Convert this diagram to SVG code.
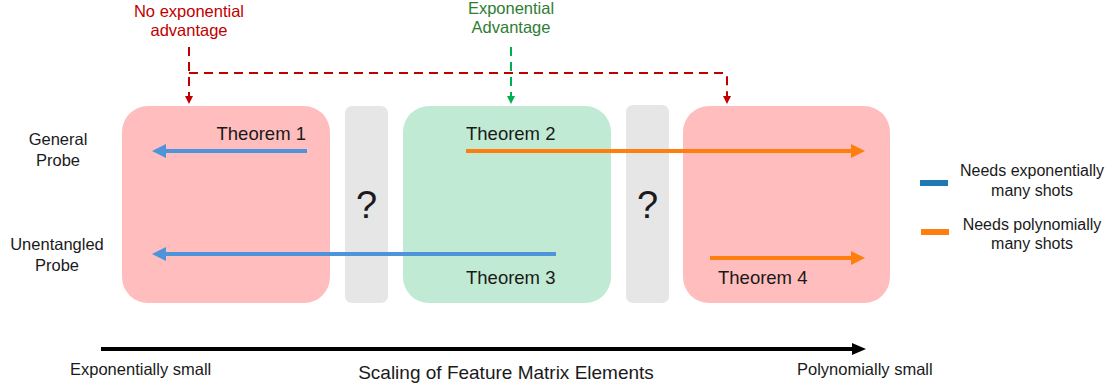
<svg xmlns="http://www.w3.org/2000/svg" width="1119" height="387" viewBox="0 0 1119 387">
  <style>
    text { font-family: "Liberation Sans", Arial, sans-serif; fill: #1a1a1a; }
    .thm { font-size: 18.5px; }
    .side { font-size: 16.5px; text-anchor: middle; }
    .legend { font-size: 16px; text-anchor: middle; }
    .axis { font-size: 16.5px; }
    .q { font-size: 38px; text-anchor: middle; }
    .red-box { fill: #ffbdbd; }
    .green-box { fill: #c0ead3; }
    .gray-box { fill: #e6e6e6; }
    .blue { stroke: #4d94db; stroke-width: 4; fill: none; }
    .orange { stroke: #ff7f0e; stroke-width: 4; fill: none; }
    .dash-red { stroke: #c00000; stroke-width: 2; fill: none; stroke-dasharray: 9 6; }
    .dash-green { stroke: #00b050; stroke-width: 2; fill: none; stroke-dasharray: 9 6; }
  </style>
  <defs>
    <marker id="head-blue" markerUnits="userSpaceOnUse" markerWidth="14" markerHeight="14" refX="0" refY="7" orient="auto">
      <path d="M0,0 L14,7 L0,14 Z" fill="#4d94db"/>
    </marker>
    <marker id="head-orange" markerUnits="userSpaceOnUse" markerWidth="14" markerHeight="14" refX="0" refY="7" orient="auto">
      <path d="M0,0 L14,7 L0,14 Z" fill="#ff7f0e"/>
    </marker>
    <marker id="head-black" markerUnits="userSpaceOnUse" markerWidth="14" markerHeight="14" refX="0" refY="7" orient="auto">
      <path d="M0,1 L14,7 L0,13 Z" fill="#000"/>
    </marker>
    <marker id="head-red" markerUnits="userSpaceOnUse" markerWidth="8" markerHeight="8" refX="0" refY="4" orient="auto">
      <path d="M0,0 L8,4 L0,8 Z" fill="#c00000"/>
    </marker>
    <marker id="head-green" markerUnits="userSpaceOnUse" markerWidth="8" markerHeight="8" refX="0" refY="4" orient="auto">
      <path d="M0,0 L8,4 L0,8 Z" fill="#00b050"/>
    </marker>
  </defs>

  <!-- regions -->
  <g id="region-exp-small">
    <rect class="red-box" x="122" y="106" width="208" height="197" rx="26"/>
  </g>
  <g id="gap-left">
    <rect class="gray-box" x="345" y="106" width="43" height="197" rx="7"/>
    <text class="q" x="366.5" y="218">?</text>
  </g>
  <g id="region-mid">
    <rect class="green-box" x="403" y="106" width="208" height="197" rx="26"/>
  </g>
  <g id="gap-right">
    <rect class="gray-box" x="626" y="105" width="43" height="198" rx="7"/>
    <text class="q" x="647.5" y="218">?</text>
  </g>
  <g id="region-poly-small">
    <rect class="red-box" x="683" y="106" width="207" height="197" rx="26"/>
  </g>

  <!-- row labels -->
  <g id="label-general">
    <text class="side" x="58" y="145">General</text>
    <text class="side" x="58" y="166">Probe</text>
  </g>
  <g id="label-unentangled">
    <text class="side" x="57" y="250">Unentangled</text>
    <text class="side" x="57" y="271">Probe</text>
  </g>

  <!-- top annotations -->
  <g id="note-no-advantage">
    <text class="legend" x="189" y="17" style="fill:#c00000;font-size:16.5px">No exponential</text>
    <text class="legend" x="189" y="36" style="fill:#c00000;font-size:16.5px">advantage</text>
  </g>
  <g id="note-advantage">
    <text class="legend" x="511" y="14" style="fill:#2e7d32;font-size:16.5px">Exponential</text>
    <text class="legend" x="511" y="33" style="fill:#2e7d32;font-size:16.5px">Advantage</text>
  </g>

  <!-- theorem labels -->
  <g id="theorem-1"><text class="thm" x="306" y="140" text-anchor="end">Theorem 1</text></g>
  <g id="theorem-2"><text class="thm" x="466" y="140">Theorem 2</text></g>
  <g id="theorem-3"><text class="thm" x="466" y="284">Theorem 3</text></g>
  <g id="theorem-4"><text class="thm" x="718" y="284">Theorem 4</text></g>

  <!-- legend -->
  <g id="legend-exp">
    <line x1="920" y1="183" x2="948" y2="183" stroke="#1f77b4" stroke-width="6"/>
    <text class="legend" x="1032" y="176">Needs exponentially</text>
    <text class="legend" x="1032" y="196">many shots</text>
  </g>
  <g id="legend-poly">
    <line x1="921" y1="232" x2="949" y2="232" stroke="#ff7f0e" stroke-width="6"/>
    <text class="legend" x="1032" y="230">Needs polynomially</text>
    <text class="legend" x="1032" y="249">many shots</text>
  </g>

  <!-- axis -->
  <g id="axis">
    <text class="axis" x="70" y="375">Exponentially small</text>
    <text class="axis" x="506" y="379" text-anchor="middle" style="font-size:19px">Scaling of Feature Matrix Elements</text>
    <text class="axis" x="797" y="375">Polynomially small</text>
  </g>

  <!-- connectors -->
  <g id="connectors">
    <line class="blue" x1="307" y1="151" x2="166" y2="151" marker-end="url(#head-blue)"/>
    <line class="blue" x1="556" y1="254" x2="166" y2="254" marker-end="url(#head-blue)"/>
    <line class="orange" x1="466" y1="151" x2="851" y2="151" marker-end="url(#head-orange)"/>
    <line class="orange" x1="710" y1="258" x2="851" y2="258" marker-end="url(#head-orange)"/>
    <line x1="101" y1="349" x2="852" y2="349" stroke="#000" stroke-width="4" marker-end="url(#head-black)"/>
    <path class="dash-red" d="M189,47 V96" marker-end="url(#head-red)"/>
    <path class="dash-red" d="M189,73 H724 Q727,73 727,76 V96" marker-end="url(#head-red)"/>
    <path class="dash-green" d="M511,47 V96" marker-end="url(#head-green)"/>
  </g>
</svg>
